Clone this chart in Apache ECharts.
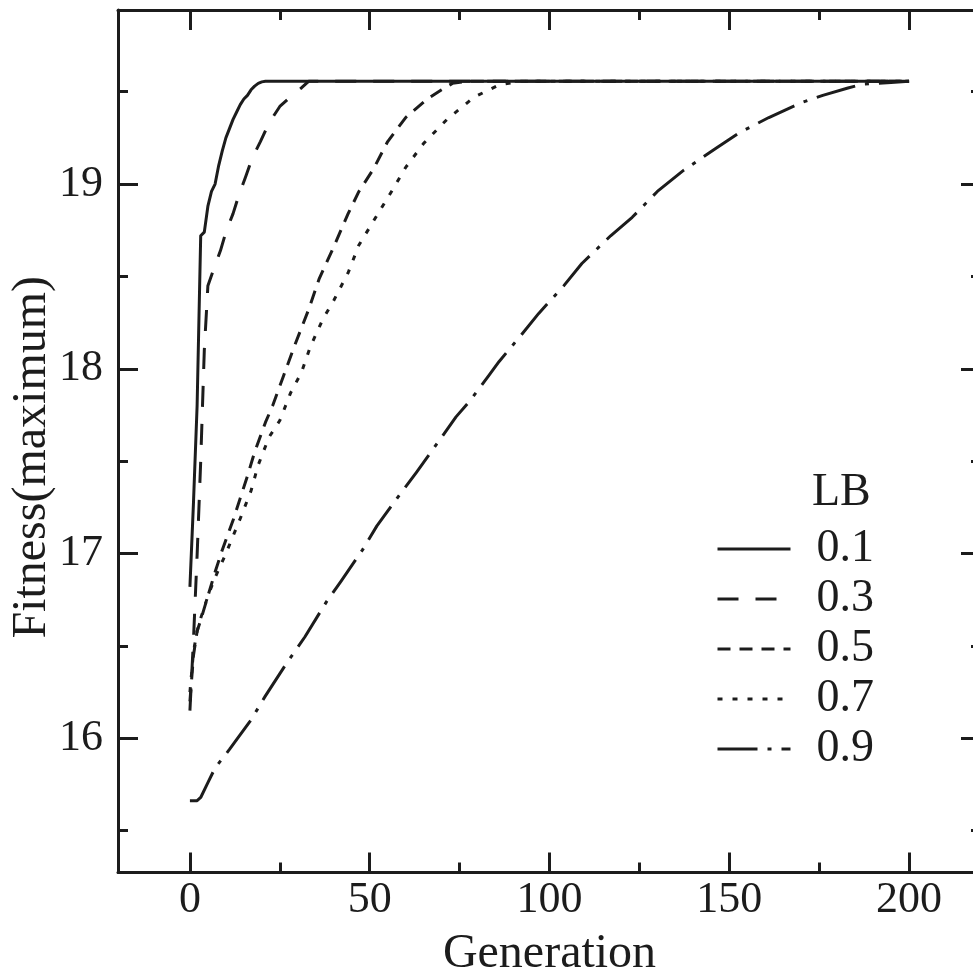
<!DOCTYPE html>
<html>
<head>
<meta charset="utf-8">
<script src="https://cdn.jsdelivr.net/npm/echarts@6/dist/echarts.min.js"></script>
<style>html,body{margin:0;padding:0;background:#fff}#c{width:973px;height:976px}</style>
</head>
<body>
<div id="c"></div>
<script>
// ---- data ----
const seriesNames = ['0.1', '0.3', '0.5', '0.7', '0.9'];

const gen01 = [0, 1, 2, 3, 4, 5, 6, 7, 8, 9, 10, 11, 12, 13, 14, 15, 16, 17, 18, 19, 20, 21, 200];
const fit01 = [16.82, 17.28, 17.80, 18.72, 18.74, 18.88, 18.96, 19.00, 19.10, 19.18, 19.25, 19.30, 19.35, 19.39, 19.43, 19.46, 19.48, 19.51, 19.53, 19.545, 19.553, 19.556, 19.556];

const gen03 = [0, 1, 2, 3, 4, 5, 7, 8.5, 10, 12, 13.6, 15.5, 17.3, 19.6, 22, 25, 29, 31, 33, 200];
const fit03 = [16.15, 16.54, 16.99, 17.50, 18.10, 18.45, 18.56, 18.64, 18.74, 18.84, 18.94, 19.04, 19.14, 19.23, 19.33, 19.42, 19.49, 19.52, 19.556, 19.556];

const gen05 = [0, 1, 2, 3, 5, 7, 9, 12, 14, 16, 18, 21, 23, 26, 29, 33, 36, 40, 44, 47, 51, 55, 60, 66, 70, 73, 77, 200];
const fit05 = [16.20, 16.45, 16.58, 16.64, 16.77, 16.90, 17.02, 17.18, 17.30, 17.42, 17.55, 17.71, 17.80, 17.96, 18.12, 18.32, 18.49, 18.66, 18.84, 18.96, 19.08, 19.23, 19.36, 19.46, 19.51, 19.545, 19.556, 19.556];

const gen07 = [0, 1, 2, 3, 5, 7, 10, 14, 17, 19, 22, 25, 28, 31, 33.5, 37, 40, 44, 47, 52, 57, 60, 65, 71.5, 79, 86, 92, 200];
const fit07 = [16.25, 16.47, 16.58, 16.65, 16.77, 16.87, 17.00, 17.19, 17.34, 17.48, 17.63, 17.72, 17.87, 17.98, 18.12, 18.27, 18.37, 18.52, 18.67, 18.83, 18.99, 19.09, 19.22, 19.35, 19.47, 19.537, 19.556, 19.556];

const gen09 = [0, 2, 3, 5, 7, 9, 11, 14, 17, 21, 27, 32, 38, 42, 48, 52, 58, 63, 70, 74, 78, 83, 86, 92, 97, 104, 109, 117, 123, 130, 137, 146, 153, 161, 170, 176, 183, 187, 195, 200];
const fit09 = [15.663, 15.663, 15.68, 15.76, 15.84, 15.89, 15.94, 16.02, 16.10, 16.23, 16.41, 16.55, 16.74, 16.85, 17.02, 17.15, 17.31, 17.44, 17.63, 17.74, 17.83, 17.96, 18.04, 18.18, 18.30, 18.45, 18.57, 18.72, 18.82, 18.96, 19.07, 19.19, 19.28, 19.36, 19.44, 19.48, 19.52, 19.54, 19.55, 19.556];

const xMajorTicks = [0, 50, 100, 150, 200];
const xMinorTicks = [25, 75, 125, 175];
const yMajorTicks = [16, 17, 18, 19];
const yMinorTicks = [15.5, 16.5, 17.5, 18.5, 19.5];

// ---- styles ----
const INK = '#1c1c1c';
const FONT = '"Liberation Serif", "Times New Roman", serif';
const dashes = ['solid', [21, 17], [13, 9], [5, 10], [40, 10, 4, 10]];
const gens = [gen01, gen03, gen05, gen07, gen09];
const fits = [fit01, fit03, fit05, fit07, fit09];

const X_MIN = -20, X_MAX = 220, Y_MIN = 15.274, Y_MAX = 19.942;

function xAxisDef(pos, ticks, len, withLabel, withLine) {
  return {
    type: 'value', position: pos, min: X_MIN, max: X_MAX, gridIndex: 0,
    axisLine: { show: withLine, onZero: false, lineStyle: { color: INK, width: 3 } },
    axisTick: { show: true, inside: true, length: len, customValues: ticks, lineStyle: { color: INK, width: 3 } },
    axisLabel: { show: withLabel, customValues: ticks, margin: 6, color: INK, fontSize: 44, fontFamily: FONT },
    splitLine: { show: false }
  };
}
function yAxisDef(pos, ticks, len, withLabel, withLine) {
  return {
    type: 'value', position: pos, min: Y_MIN, max: Y_MAX, gridIndex: 0,
    axisLine: { show: withLine, onZero: false, lineStyle: { color: INK, width: 3 } },
    axisTick: { show: true, inside: true, length: len, customValues: ticks, lineStyle: { color: INK, width: 3 } },
    axisLabel: { show: withLabel, customValues: ticks, margin: 15, color: INK, fontSize: 44, fontFamily: FONT },
    splitLine: { show: false }
  };
}

const xAxes = [
  xAxisDef('bottom', xMajorTicks, 20, true, true),
  xAxisDef('bottom', xMinorTicks, 10, false, false),
  xAxisDef('top', xMajorTicks, 20, false, true),
  xAxisDef('top', xMinorTicks, 10, false, false)
];
Object.assign(xAxes[0], {
  name: 'Generation', nameLocation: 'middle', nameGap: 58, nameMoveOverlap: false,
  nameTextStyle: { color: INK, fontSize: 48, fontFamily: FONT }
});
const yAxes = [
  yAxisDef('left', yMajorTicks, 20, true, true),
  yAxisDef('left', yMinorTicks, 10, false, false),
  yAxisDef('right', yMajorTicks, 20, false, true),
  yAxisDef('right', yMinorTicks, 10, false, false)
];
Object.assign(yAxes[0], {
  name: 'Fitness(maximum)', nameLocation: 'middle', nameGap: 62, nameMoveOverlap: false,
  nameTextStyle: { color: INK, fontSize: 48, fontFamily: FONT, padding: [0, 32, 0, 0] }
});

const series = seriesNames.map((nm, i) => ({
  name: nm,
  type: 'line',
  xAxisIndex: 0, yAxisIndex: 0,
  symbol: 'none',
  smooth: false,
  data: gens[i].map((g, k) => [g, fits[i][k]]),
  lineStyle: { color: INK, width: 3, type: dashes[i], cap: 'butt', join: 'round' },
  itemStyle: { color: INK },
  z: 3
}));

const chart = echarts.init(document.getElementById('c'), null, { renderer: 'canvas' });
chart.setOption({
  animation: false,
  backgroundColor: '#ffffff',
  title: {
    text: 'LB', left: 812, top: 470, padding: 0,
    textStyle: { color: INK, fontSize: 46, fontWeight: 'normal', fontFamily: FONT }
  },
  grid: { left: 118, right: -8, top: 10, bottom: 103.5, containLabel: false, outerBoundsMode: 'none' },
  legend: {
    orient: 'vertical', left: 716, top: 524, padding: 0,
    itemWidth: 73, itemHeight: 14, itemGap: 0,
    data: seriesNames,
    itemStyle: { color: 'rgba(0,0,0,0)', borderColor: 'rgba(0,0,0,0)', borderWidth: 0 },
    lineStyle: { color: INK, width: 3, type: 'inherit' },
    textStyle: { color: INK, fontSize: 46, fontFamily: FONT, lineHeight: 50, padding: [0, 0, 0, 21] },
    selectedMode: false
  },
  xAxis: xAxes,
  yAxis: yAxes,
  series: series
});
</script>
</body>
</html>
